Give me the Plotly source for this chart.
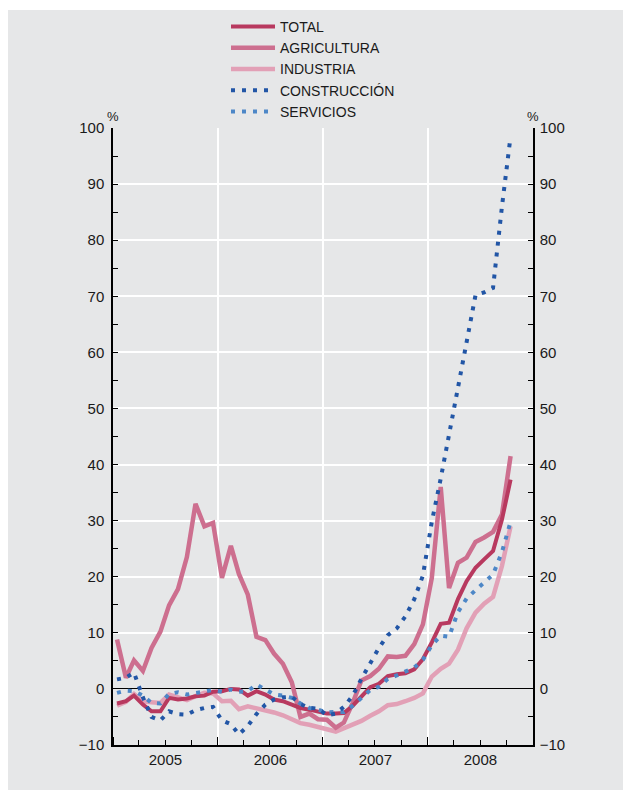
import plotly.graph_objects as go
import pandas as pd

# Monthly data, Jan 2005 - Oct 2008 (year-on-year %)
months = pd.date_range("2005-01-01", periods=46, freq="MS") + pd.Timedelta(days=14)

total = [-2.6, -2.2, -1.2, -2.8, -4.0, -4.0, -1.6, -1.9, -1.7, -1.3, -1.2, -0.5,
         -0.4, 0.0, -0.1, -1.2, -0.4, -1.0, -1.9, -2.2, -2.8, -3.4, -3.7, -4.0,
         -4.4, -4.4, -4.3, -3.0, -1.3, 0.3, 0.9, 2.3, 2.6, 2.8, 3.5, 5.3,
         8.3, 11.6, 11.8, 16.0, 19.2, 21.6, 23.1, 24.6, 30.2, 37.3]

agricultura = [8.8, 2.0, 5.1, 3.2, 7.3, 10.2, 14.9, 17.8, 23.5, 33.0, 29.0, 29.6,
               19.8, 25.5, 20.5, 16.8, 9.3, 8.7, 6.3, 4.5, 1.2, -5.0, -4.4, -5.4,
               -5.5, -6.9, -6.0, -2.5, 1.5, 2.3, 3.6, 5.8, 5.7, 5.9, 8.0, 11.5,
               19.8, 36.0, 18.0, 22.5, 23.4, 26.2, 27.0, 28.0, 31.1, 41.5]

industria = [-3.0, -2.3, -0.9, -2.2, -2.4, -2.5, -1.0, -1.6, -2.0, -1.3, -0.7, -0.8,
             -2.2, -2.1, -3.6, -3.1, -3.4, -3.7, -4.2, -4.7, -5.5, -6.1, -6.4, -6.7,
             -7.2, -7.6, -7.0, -6.4, -5.7, -4.8, -4.0, -2.9, -2.7, -2.2, -1.6, -0.8,
             2.2, 3.6, 4.5, 7.0, 10.8, 13.6, 15.2, 16.4, 21.9, 29.0]

construccion = [1.7, 2.0, 2.9, -1.5, -5.0, -5.6, -4.0, -4.5, -4.6, -3.8, -3.4, -3.2,
                -5.6, -6.3, -8.1, -6.6, -4.5, -2.8, -1.9, -1.5, -1.4, -2.7, -3.4, -3.5,
                -4.7, -4.4, -3.2, -1.2, 1.8, 4.6, 7.3, 9.6, 10.8, 12.9, 16.0, 20.2,
                29.8, 37.5, 45.5, 54.0, 62.0, 70.2, 70.7, 71.5, 86.0, 98.5]

servicios = [-0.7, -0.3, -0.4, -1.2, -2.5, -2.6, -0.9, -0.6, -1.0, -0.7, -0.5, -0.2,
             -0.5, -0.1, -0.5, -0.4, 0.8, -0.2, -1.0, -1.2, -1.6, -2.6, -3.4, -3.7,
             -4.2, -4.1, -4.1, -3.0, -1.6, -0.2, 0.4, 1.8, 2.4, 3.0, 3.8, 5.2,
             7.8, 9.5, 9.3, 13.7, 16.1, 17.6, 19.0, 20.4, 24.4, 29.8]

C_TOTAL = "#b8395f"
C_AGRI = "#cd6f8f"
C_IND = "#e2a0b6"
C_CONS = "#2256a6"
C_SERV = "#4d87c7"

fig = go.Figure()
fig.add_trace(go.Scatter(x=months, y=industria, name="INDUSTRIA", mode="lines",
                         line=dict(color=C_IND, width=4.5), legendrank=3))
fig.add_trace(go.Scatter(x=months, y=agricultura, name="AGRICULTURA", mode="lines",
                         line=dict(color=C_AGRI, width=4.5), legendrank=2))
fig.add_trace(go.Scatter(x=months, y=total, name="TOTAL", mode="lines",
                         line=dict(color=C_TOTAL, width=4), legendrank=1))
fig.add_trace(go.Scatter(x=months, y=servicios, name="SERVICIOS", mode="lines",
                         line=dict(color=C_SERV, width=4, dash="4px,7px"), legendrank=5))
fig.add_trace(go.Scatter(x=months, y=construccion, name="CONSTRUCCIÓN", mode="lines",
                         yaxis="y2",
                         line=dict(color=C_CONS, width=4, dash="4px,7px"), legendrank=4))

# page has an 8px body margin: figure occupies screen (8..631, 8..796)
PW, PH = 420, 617
def px_x(p):
    return (p - 113) / PW
def px_y(p):
    return (745 - p) / PH

fig.add_shape(type="rect", xref="paper", yref="paper",
              x0=px_x(8), x1=px_x(625), y0=px_y(790), y1=px_y(10),
              fillcolor="#e6e7e8", line=dict(width=0), layer="below")

axis_font = dict(family="Liberation Sans, Arial, sans-serif", size=15, color="#1a1a1a")

fig.update_layout(
    width=623, height=788,
    margin=dict(l=105, r=98, t=120, b=51, autoexpand=False),
    paper_bgcolor="white", plot_bgcolor="rgba(0,0,0,0)",
    font=axis_font,
    showlegend=True,
    legend=dict(x=px_x(226), y=px_y(11), xanchor="left", yanchor="top",
                bgcolor="rgba(0,0,0,0)", itemwidth=44, traceorder="normal",
                font=dict(family="Liberation Sans, Arial, sans-serif", size=14, color="#1a1a1a")),
    xaxis=dict(type="date", range=["2005-01-01", "2009-01-01"], dtick="M12",
               tick0="2005-01-01", tickformat="%Y", ticklabelmode="period",
               ticks="inside", ticklen=8, tickcolor="black", tickwidth=1,
               showgrid=True, gridcolor="white", gridwidth=1.5,
               showline=True, linecolor="black", linewidth=2, zeroline=False,
               minor=dict(dtick="M3", ticks="inside", ticklen=5, tickcolor="black",
                          showgrid=False),
               ticklabelstandoff=0, tickfont=axis_font),
    yaxis=dict(range=[-10, 100], dtick=10, tick0=0, ticks="inside", ticklen=5,
               tickcolor="black", showgrid=True, gridcolor="white", gridwidth=1.5,
               zeroline=True, zerolinecolor="black", zerolinewidth=1,
               showline=True, linecolor="black", linewidth=1.5,
               minor=dict(dtick=5, ticks="inside", ticklen=5, tickcolor="black", showgrid=False),
               ticklabelstandoff=4, tickfont=axis_font),
    yaxis2=dict(range=[-10, 100], dtick=10, tick0=0, overlaying="y", side="right",
                ticks="inside", ticklen=5, tickcolor="black", showgrid=False,
                zeroline=False, showline=True, linecolor="black", linewidth=1.5,
                minor=dict(dtick=5, ticks="inside", ticklen=5, tickcolor="black", showgrid=False),
                ticklabelstandoff=2, tickfont=axis_font),
    annotations=[
        dict(text="%", x=0, y=1, xref="paper", yref="paper", xanchor="center",
             yanchor="bottom", yshift=2, showarrow=False, font=dict(size=13)),
        dict(text="%", x=1, y=1, xref="paper", yref="paper", xanchor="center",
             yanchor="bottom", yshift=2, showarrow=False, font=dict(size=13)),
    ],
)

fig.write_html("out.html")
